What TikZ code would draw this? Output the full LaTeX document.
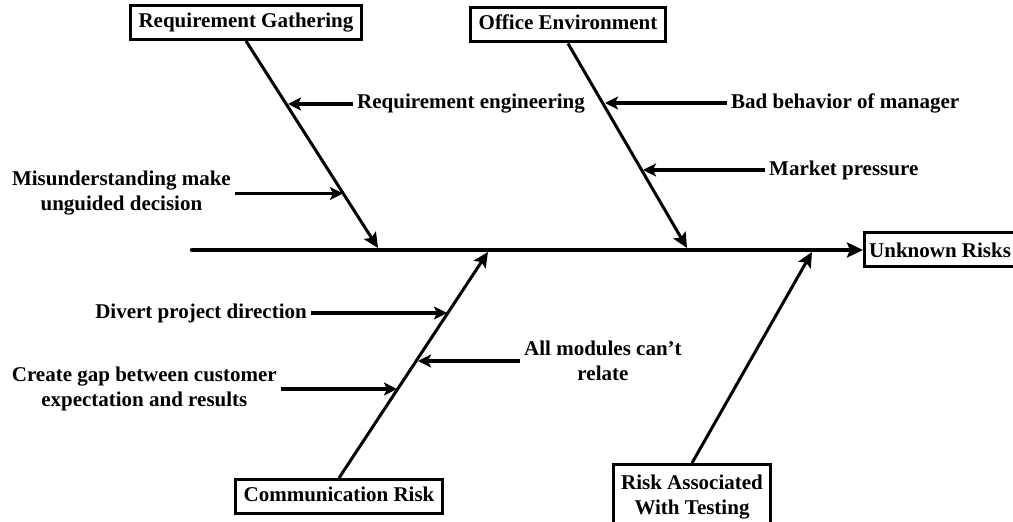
\documentclass[tikz,border=0pt]{standalone}
\usepackage{fontspec}
\setmainfont{Liberation Serif}
\usetikzlibrary{arrows.meta,calc}

\begin{document}
\begin{tikzpicture}[x=1pt,y=1pt,
  every node/.style={font=\fontsize{21}{25}\selectfont\bfseries},
  causebox/.style={draw,line width=3pt,inner xsep=8pt,inner ysep=7pt,
    text height=15pt,text depth=5pt,align=center},
  twoline/.style={draw,line width=3pt,inner xsep=8pt,inner ysep=10pt,align=center},
  label/.style={inner xsep=4pt,inner ysep=0pt,align=center},
  spine/.style={line width=4.5pt,line cap=round,-{Stealth[length=16pt,width=15pt,inset=3pt]}},
  bone/.style={line width=3pt,-{Stealth[length=15pt,width=14pt,inset=3pt]}},
  sub/.style={line width=3.5pt,-{Stealth[length=13pt,width=13pt,inset=3pt]}}]
\useasboundingbox (0,0) rectangle (1013,522);

% effect box: its right side runs past the page edge
\node[draw,line width=3pt,anchor=west,minimum width=180pt,minimum height=34pt] (ur) at (863,272) {};
\node[anchor=west,inner sep=0pt] (urt) at ([xshift=6pt]ur.west) {Unknown Risks};

% main causes
\node[causebox] (rg) at (246,499.5) {Requirement Gathering};
\node[causebox] (oe) at (568,497) {Office Environment};
\node[causebox] (cr) at (339,25.5) {Communication Risk};
\node[twoline,anchor=north] (rt) at (692,59) {Risk Associated\\With Testing};

% spine
\coordinate (s0) at (192,272);
\draw[spine] (s0) -- (ur.west);

% bones meeting the spine
\coordinate (b1) at (378,274);
\coordinate (b2) at (687,274);
\coordinate (b3) at (488,270);
\coordinate (b4) at (812,270);
\draw[bone] (rg.south) -- (b1);
\draw[bone] (oe.south) -- (b2);
\draw[bone] (cr.north) -- (b3);
\draw[bone] (rt.north) -- (b4);

% points where the sub-causes meet the bones
\coordinate (tRe) at (288,418);
\coordinate (tMis) at (343,328.5);
\coordinate (tBb) at (605,419);
\coordinate (tMp) at (643,352);
\coordinate (tDp) at (447,209);
\coordinate (tAm) at (418,161);
\coordinate (tCg) at (397,133);

% sub-causes
\node[label,anchor=west] (re) at (353,418) {Requirement engineering};
\node[label,anchor=east] (mis) at (235,328.5) {Misunderstanding make\\unguided decision};
\node[label,anchor=west] (bb) at (727,419) {Bad behavior of manager};
\node[label,anchor=west] (mp) at (765,352) {Market pressure};
\node[label,anchor=east] (dp) at (311,209) {Divert project direction};
\node[label,anchor=west] (am) at (520,161) {All modules can’t\\relate};
\node[label,anchor=east] (cg) at (281,133) {Create gap between customer\\expectation and results};

\draw[sub] (re.west) -- (tRe);
\draw[sub] (mis.east) -- (tMis);
\draw[sub] (bb.west) -- (tBb);
\draw[sub] (mp.west) -- (tMp);
\draw[sub] (dp.east) -- (tDp);
\draw[sub] (am.west) -- (tAm);
\draw[sub] (cg.east) -- (tCg);
\end{tikzpicture}
\end{document}
